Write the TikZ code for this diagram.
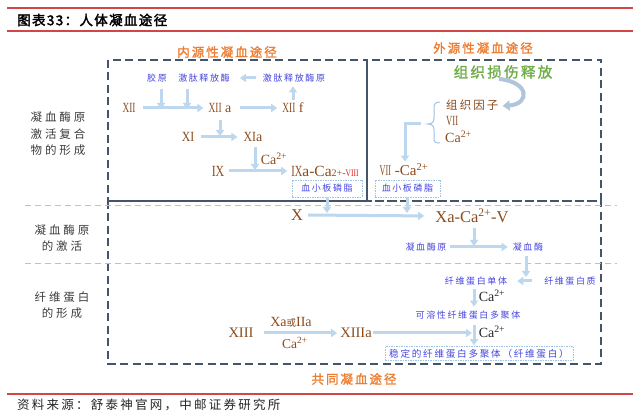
\documentclass[tikz,border=0pt]{standalone}
\usepackage{fontspec}
\usepackage{graphicx}
\setmainfont{Liberation Serif}
\newfontfamily\cjkA{Noto Sans CJK SC}[LetterSpace=18]
\newfontfamily\cjkL{Noto Sans CJK SC}[LetterSpace=25]
\newfontfamily\cjkT{Noto Sans CJK SC}[LetterSpace=16,FakeBold=1.5]
\newfontfamily\cjkH{Noto Sans CJK SC}[LetterSpace=10,FakeBold=2.5]
\newfontfamily\cjkN{Noto Sans CJK SC}
\usetikzlibrary{arrows.meta}
\definecolor{slate}{RGB}{68,84,106}
\definecolor{sepor}{RGB}{244,177,131}
\definecolor{arrowblue}{RGB}{189,215,238}
\definecolor{curveblue}{RGB}{176,196,220}
\definecolor{boxblue}{RGB}{157,195,230}
\definecolor{bluetext}{RGB}{70,70,225}
\definecolor{brownt}{RGB}{140,75,30}
\definecolor{redt}{RGB}{230,30,30}
\definecolor{orangetitle}{RGB}{237,125,49}
\definecolor{greent}{RGB}{112,173,71}
\definecolor{redline}{RGB}{210,70,70}
\definecolor{labgray}{RGB}{60,60,60}
\newcommand\rmn[2]{\resizebox{#1}{\height}{#2}}
\begin{document}
\begin{tikzpicture}[x=1pt,y=-1pt,
  frame/.style={draw=slate,line width=1.6pt,dash pattern=on 8pt off 4.5pt},
  sepline/.style={draw=sepor,line width=1pt,dash pattern=on 6pt off 4pt},
  flow/.style={draw=arrowblue,line width=3pt,-{Triangle[length=6pt,width=8pt]}},
  plainflow/.style={draw=arrowblue,line width=3pt},
  curvearrow/.style={draw=curveblue,line width=4pt,-{Triangle[length=7pt,width=10pt]}},
  brk/.style={draw=boxblue,line width=1pt},
  bl/.style={inner sep=0pt,text=bluetext,font=\cjkA\fontsize{9}{10}\selectfont},
  br/.style={inner sep=0pt,text=brownt,font=\fontsize{14}{16}\selectfont},
  brbig/.style={inner sep=0pt,text=brownt,font=\fontsize{16.5}{18}\selectfont},
  blk/.style={inner sep=0pt,text=black!85,font=\fontsize{14}{16}\selectfont},
  tbox/.style={draw=boxblue,line width=0.6pt,dash pattern=on 1.5pt off 1pt,inner sep=0pt,
    minimum height=17pt,text=bluetext,font=\cjkA\fontsize{9}{10}\selectfont},
  lab/.style={inner sep=0pt,text=labgray,align=center,font=\cjkL\fontsize{11.5}{16.5}\selectfont},
  ttl/.style={inner sep=0pt,text=orangetitle,font=\cjkT\fontsize{12.5}{14}\selectfont},
  gttl/.style={inner sep=0pt,text=greent,font=\cjkT\fontsize{14.5}{16}\selectfont},
]
\useasboundingbox (0,0) rectangle (640,419);
\fill[white] (0,0) rectangle (640,419);

% header and footer
\draw[redline,line width=1.8pt] (7,8) -- (633,8);
\node[inner sep=0pt,anchor=west,font=\cjkH\fontsize{13.5}{15}\selectfont] (title) at (17,20) {图表33：人体凝血途径};
\draw[redline,line width=1.3pt] (7,31) -- (633,31);
\draw[redline,line width=1.8pt] (7,394) -- (633,394);
\node[inner sep=0pt,anchor=west,text=black!85,font=\cjkA\fontsize{12.5}{13}\selectfont] (src) at (17,405) {资料来源：舒泰神官网，中邮证券研究所};

% frames
\draw[frame] (108,60) rectangle (367,201);
\draw[frame] (367,60) rectangle (601,201);
\draw[frame] (108,201) rectangle (601,364);
\draw[sepline] (25,206) -- (617,206);
\draw[sepline] (25,264) -- (617,264);

% titles
\node[ttl] (tin) at (227,52) {内源性凝血途径};
\node[ttl] (tex) at (483,48) {外源性凝血途径};
\node[ttl] (tco) at (354,379) {共同凝血途径};
\node[gttl] (tis) at (503,72) {组织损伤释放};

% left labels
\node[lab] (l1) at (58,134) {凝血酶原\\激活复合\\物的形成};
\node[lab] (l2) at (62,238) {凝血酶原\\的激活};
\node[lab] (l3) at (62,305) {纤维蛋白\\的形成};

% intrinsic
\node[bl] (gy) at (157,78) {胶原};
\node[bl] (jts) at (204,78) {激肽释放酶};
\node[bl] (jtsy) at (294,78) {激肽释放酶原};
\node[br] (xii) at (129,108) {\rmn{13pt}{XII}};
\node[br] (xiia) at (220,108) {\rmn{13pt}{XII} a};
\node[br] (xiif) at (293,108) {\rmn{13pt}{XII} f};
\node[br] (xi) at (188,137) {\rmn{12.5pt}{XI}};
\node[br] (xia) at (253,137) {\rmn{12.5pt}{XI}a};
\node[br,font=\fontsize{15.5}{17}\selectfont] (ix) at (218,171) {\rmn{12.5pt}{IX}};
\node[br] (ca1) at (274,159) {Ca\textsuperscript{2+}};
\node[br,font=\fontsize{15.5}{17}\selectfont] (ixa) at (325,171) {\rmn{11pt}{IX}a-Ca{\fontsize{10}{10}\selectfont 2+-\textcolor{redt}{\rmn{13pt}{VIII}}}};
\node[tbox,minimum width=70pt] (pl1) at (327,188.5) {血小板磷脂};

% extrinsic
\node[inner sep=0pt,anchor=west,text=brownt,font=\cjkA\fontsize{11.5}{13}\selectfont] (tf) at (446,105) {组织因子};
\node[br,anchor=west] (vii) at (446,121) {\rmn{12pt}{VII}};
\node[br,anchor=west] (ca2) at (445,137) {Ca\textsuperscript{2+}};
\node[br,font=\fontsize{15}{17}\selectfont] (viica) at (404,170) {\rmn{11.5pt}{VII} -Ca\textsuperscript{2+}};
\node[tbox,minimum width=65pt] (pl2) at (407.5,188.5) {血小板磷脂};
\coordinate (btip) at (428,124);
\coordinate (bstart) at (421,124);
\coordinate (bcorner) at (405,124);
\draw[brk] (440,102) .. controls (435,102) and (434,104) .. (434,109) -- (434,118)
  .. controls (434,122) and (432,124) .. (btip)
  .. controls (432,124) and (434,126) .. (434,130) -- (434,138)
  .. controls (434,142) and (435,143) .. (440,143);
\draw[flow,shorten >=2pt] (bstart) -- (bcorner) -- (bcorner |- viica.north);
\draw[curvearrow] ([xshift=-4pt]tis.south) .. controls (530,82) and (530,104) .. ([xshift=4pt,yshift=-1pt]tf.east);

% common
\node[brbig] (x) at (297,215) {X};
\node[brbig] (xa) at (472,216) {Xa-Ca\textsuperscript{2+}-V};
\node[bl] (nxmy) at (426,247) {凝血酶原};
\node[bl] (nxm) at (528,247) {凝血酶};
\node[bl] (dt) at (476,281) {纤维蛋白单体};
\node[bl] (dbz) at (570,281) {纤维蛋白质};
\node[blk] (ca3) at (492,296) {Ca\textsuperscript{2+}};
\node[bl] (kr) at (468,315) {可溶性纤维蛋白多聚体};
\node[blk] (ca4) at (492,332) {Ca\textsuperscript{2+}};
\node[tbox,minimum width=188pt,minimum height=14pt,font=\cjkA\fontsize{9.6}{10}\selectfont] (wd) at (479,353.5) {稳定的纤维蛋白多聚体（纤维蛋白）};
\node[br,font=\fontsize{14.5}{16}\selectfont] (xiii) at (241,333) {XIII};
\node[br,font=\fontsize{14.5}{16}\selectfont] (xiiia) at (356,333) {XIIIa};
\node[br] (xaiia) at (291,322) {Xa{\cjkN\fontsize{9.5}{10}\selectfont 或}IIa};
\node[br,font=\fontsize{13.5}{15}\selectfont] (ca5) at (295,343) {Ca\textsuperscript{2+}};

% junctions
\coordinate (j1) at (161,109);
\coordinate (j2) at (187,109);
\coordinate (j4) at (220,136);
\coordinate (j5) at (255,170);
\coordinate (j7) at (327,213);
\coordinate (j8) at (407,213);
\coordinate (j9) at (474,246);
\coordinate (j10) at (526,277);
\coordinate (j11) at (472,333);
\coordinate (col) at (474,0);

% intrinsic arrows
\draw[flow,shorten <=7pt,shorten >=5pt] (xii.east) -- (xiia.west);
\draw[flow,shorten <=7pt] (j1 |- gy.south) -- (j1);
\draw[flow,shorten <=7pt] (j2 |- jts.south) -- (j2);
\draw[flow,shorten <=7pt,shorten >=10pt] (jtsy.west) -- (jts.east);
\draw[flow,shorten <=8pt,shorten >=5pt] (xiia.east) -- (xiif.west);
\draw[flow,shorten <=3pt,shorten >=4pt] (xiif.north) -- (xiif.north |- jtsy.south);
\draw[flow,shorten <=7pt] (xiia.south) -- (j4);
\draw[flow,shorten <=7pt,shorten >=6pt] (xi.east) -- (xia.west);
\draw[flow,shorten <=5pt] (j5 |- xia.south) -- (j5);
\draw[flow,shorten <=5pt,shorten >=4pt] (ix.east) -- (ixa.west);
\draw[flow] (pl1.south -| j7) -- (j7);
\draw[flow] (pl2.south -| j8) -- (j8);

% common arrows
\draw[flow,shorten <=5pt,shorten >=11pt] (x.east) -- (xa.west);
\draw[flow,shorten <=5pt] (xa.south -| j9) -- (j9);
\draw[flow,shorten <=3pt,shorten >=5pt] (nxmy.east) -- (nxm.west);
\draw[flow,shorten <=5pt] (j10 |- nxm.south) -- (j10);
\draw[flow,shorten <=12pt,shorten >=10pt] (dbz.west) -- (dt.east);
\draw[flow,shorten <=4pt,shorten >=4pt] (dt.south -| col) -- (kr.north -| col);
\draw[flow,shorten <=6pt,shorten >=1pt] (kr.south -| col) -- (wd.north -| col);
\draw[flow,shorten <=10pt,shorten >=3pt] (xiii.east) -- (xiiia.west);
\draw[flow,shorten <=1pt] (xiiia.east) -- (j11);
\end{tikzpicture}
\end{document}
